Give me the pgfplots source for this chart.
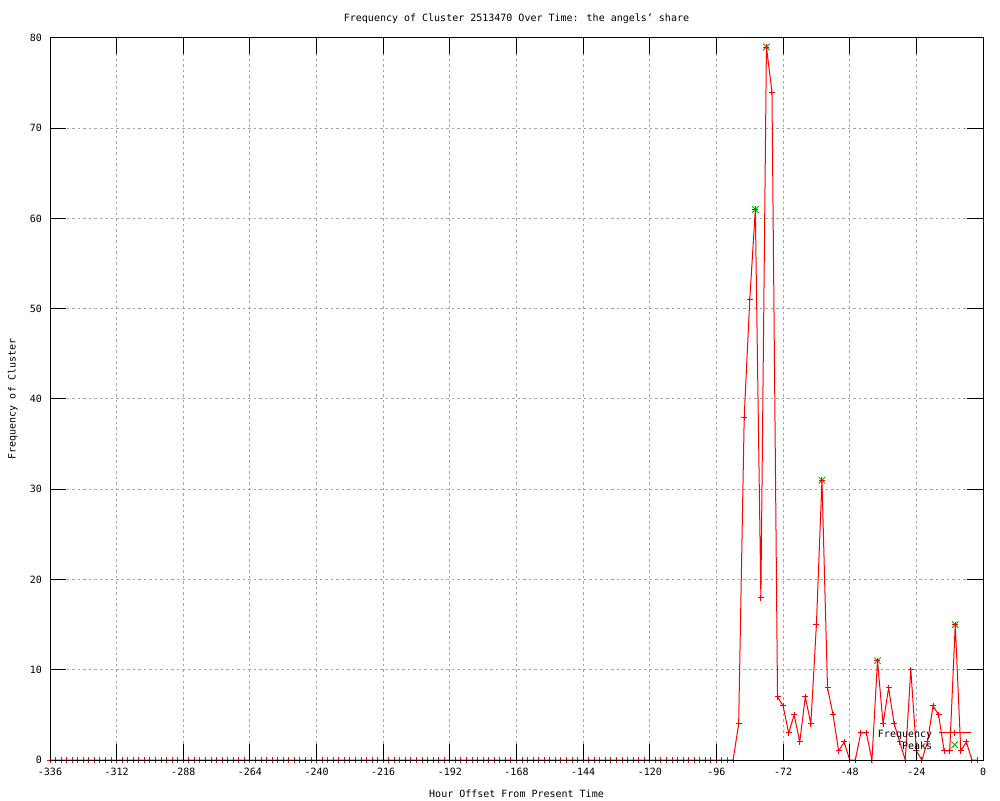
\documentclass[border=0pt]{standalone}
\usepackage{fontspec}
\setmainfont{DejaVu Sans Mono}
\usepackage{pgfplots}
\pgfplotsset{compat=1.18}
\definecolor{gpred}{RGB}{255,0,0}
\definecolor{gpgreen}{RGB}{0,192,0}
\definecolor{gpgrid}{RGB}{165,165,165}
\pgfplotsset{
  layers/gnulayers/.define layer set={
    axis background,axis grid,pre main,main,axis ticks,axis lines,axis tick labels,axis descriptions,axis foreground
  }{
    grid style={/pgfplots/on layer=axis grid},
    tick style={/pgfplots/on layer=axis ticks},
    axis line style={/pgfplots/on layer=axis lines},
    label style={/pgfplots/on layer=axis descriptions},
    legend style={/pgfplots/on layer=axis descriptions},
    title style={/pgfplots/on layer=axis descriptions},
    colorbar style={/pgfplots/on layer=axis descriptions},
    ticklabel style={/pgfplots/on layer=axis tick labels},
    axis background@ style={/pgfplots/on layer=axis background},
    3d box foreground style={/pgfplots/on layer=axis foreground},
  },
  freqlegend/.style={legend image code/.code={\draw[mark repeat=2,mark phase=2,##1] plot coordinates {(0pt,2pt) (16pt,2pt) (32pt,2pt)};}},
  peaklegend/.style={legend image code/.code={\draw[##1] plot coordinates {(16pt,2pt)};}},
}
\begin{document}
\begin{tikzpicture}
\path (0pt,0pt) rectangle (1000pt,800pt);
\begin{axis}[
  set layers=gnulayers,
  at={(50pt,40pt)}, anchor=south west,
  scale only axis, width=933pt, height=722pt,
  xmin=-336, xmax=0, ymin=0, ymax=80,
  xtick={-336,-312,-288,-264,-240,-216,-192,-168,-144,-120,-96,-72,-48,-24,0},
  xticklabels={-336,-312,-288,-264,-240,-216,-192,-168,-144,-120,-96,-72,-48,-24,0},
  ytick={0,10,20,30,40,50,60,70,80},
  /pgf/number format/assume math mode=true,
  font=\fontsize{10pt}{12pt}\selectfont,
  axis line style={black, line width=1pt},
  major tick length=16pt,
  tick style={black, line width=1pt},
  grid=major,
  major grid style={gpgrid, line width=1pt, dash pattern=on 2.5pt off 3pt},
  xticklabel style={anchor=north, inner sep=0pt, yshift=-8pt},
  yticklabel style={anchor=east, inner sep=0pt, xshift=-8pt},
  title={Frequency of Cluster 2513470 Over Time: the angels’ share},
  title style={at={(axis description cs:0.5,1)}, anchor=base, inner sep=0pt, yshift=10pt},
  xlabel={Hour Offset From Present Time},
  xlabel style={at={(axis description cs:0.5,0)}, anchor=base, inner sep=0pt, yshift=-37pt},
  ylabel={Frequency of Cluster},
  ylabel style={at={(axis description cs:-0.0397,0.5)}, anchor=center, inner sep=0pt},
  clip=false,
  reverse legend,
  legend cell align=right,
  legend plot pos=right,
  legend style={draw=none, fill=none, at={(axis description cs:0.9875,0.0437)}, anchor=north east,
    inner sep=0pt, row sep=0pt, column sep=5pt,
    nodes={inner sep=1pt, text height=7.5pt, text depth=2.5pt}},
]
\addplot[peaklegend, only marks, mark=x, mark size=4.6pt, color=gpgreen, mark options={line width=1pt}]
  coordinates {(-82,61) (-78,79) (-58,31) (-38,11) (-10,15)};
\addlegendentry{Peaks}
\addplot[freqlegend, color=gpred, line width=1pt, mark=+, mark size=3pt, mark options={solid, line width=1pt}]
  coordinates {
  (-336,0) (-334,0) (-332,0) (-330,0) (-328,0) (-326,0) (-324,0) (-322,0) (-320,0) (-318,0)
  (-316,0) (-314,0) (-312,0) (-310,0) (-308,0) (-306,0) (-304,0) (-302,0) (-300,0) (-298,0)
  (-296,0) (-294,0) (-292,0) (-290,0) (-288,0) (-286,0) (-284,0) (-282,0) (-280,0) (-278,0)
  (-276,0) (-274,0) (-272,0) (-270,0) (-268,0) (-266,0) (-264,0) (-262,0) (-260,0) (-258,0)
  (-256,0) (-254,0) (-252,0) (-250,0) (-248,0) (-246,0) (-244,0) (-242,0) (-240,0) (-238,0)
  (-236,0) (-234,0) (-232,0) (-230,0) (-228,0) (-226,0) (-224,0) (-222,0) (-220,0) (-218,0)
  (-216,0) (-214,0) (-212,0) (-210,0) (-208,0) (-206,0) (-204,0) (-202,0) (-200,0) (-198,0)
  (-196,0) (-194,0) (-192,0) (-190,0) (-188,0) (-186,0) (-184,0) (-182,0) (-180,0) (-178,0)
  (-176,0) (-174,0) (-172,0) (-170,0) (-168,0) (-166,0) (-164,0) (-162,0) (-160,0) (-158,0)
  (-156,0) (-154,0) (-152,0) (-150,0) (-148,0) (-146,0) (-144,0) (-142,0) (-140,0) (-138,0)
  (-136,0) (-134,0) (-132,0) (-130,0) (-128,0) (-126,0) (-124,0) (-122,0) (-120,0) (-118,0)
  (-116,0) (-114,0) (-112,0) (-110,0) (-108,0) (-106,0) (-104,0) (-102,0) (-100,0) (-98,0)
  (-96,0) (-94,0) (-92,0) (-90,0)
  (-88,4) (-86,38) (-84,51) (-82,61) (-80,18) (-78,79) (-76,74) (-74,7) (-72,6) (-70,3)
  (-68,5) (-66,2) (-64,7) (-62,4) (-60,15) (-58,31) (-56,8) (-54,5) (-52,1) (-50,2)
  (-48,0) (-46,0) (-44,3) (-42,3) (-40,0) (-38,11) (-36,4) (-34,8) (-32,4) (-30,2)
  (-28,0) (-26,10) (-24,1) (-22,0) (-20,2) (-18,6) (-16,5) (-14,1) (-12,1) (-10,15)
  (-8,1) (-6,2) (-4,0) (-2,0)
  };
\addlegendentry{Frequency}
\end{axis}
\end{tikzpicture}
\end{document}
